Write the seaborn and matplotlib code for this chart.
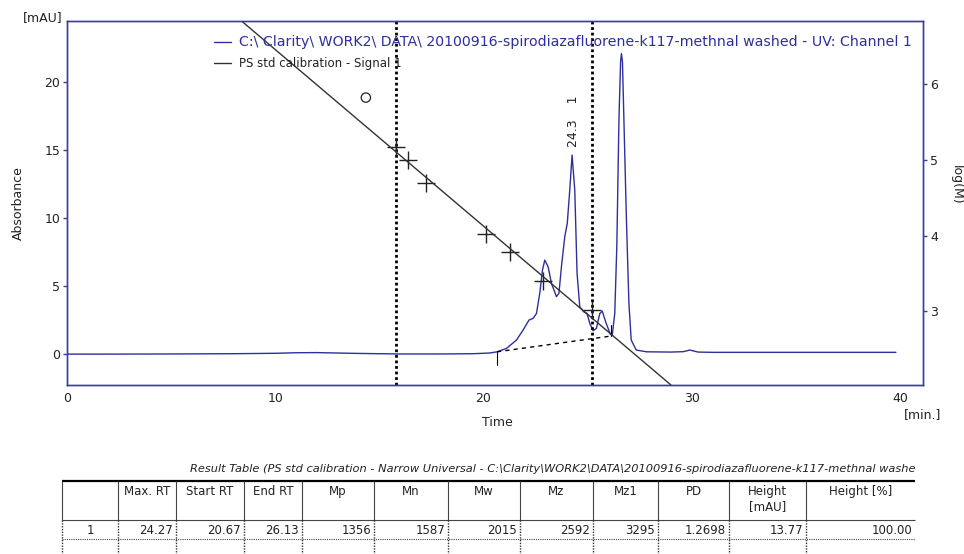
import matplotlib
matplotlib.use('Agg')
import matplotlib.pyplot as plt
from matplotlib.lines import Line2D
import seaborn as sns
import pandas as pd

# chromatogram (UV channel 1)
time_min = [0, 2, 5, 8, 10, 11, 12, 13, 14, 16, 18, 19.5, 20.3, 20.65, 21.1, 21.58,
            21.9, 22.18, 22.38, 22.54, 22.7, 22.83, 22.94, 23.1, 23.26, 23.5, 23.62,
            23.74, 23.9, 24.02, 24.14, 24.25, 24.38, 24.49, 24.62, 24.81, 24.97, 25.1,
            25.26, 25.42, 25.58, 25.7, 25.86, 26.09, 26.18, 26.3, 26.4, 26.5, 26.58,
            26.62, 26.67, 26.74, 26.86, 26.98, 27.09, 27.33, 27.82, 29.0, 29.6, 29.9,
            30.3, 31.0, 35.0, 39.8]
absorbance = [0.02, 0.02, 0.03, 0.05, 0.08, 0.12, 0.13, 0.1, 0.07, 0.03, 0.03, 0.05,
              0.1, 0.19, 0.44, 1.05, 1.79, 2.52, 2.65, 3.0, 4.5, 6.2, 6.93, 6.44, 5.22,
              4.24, 4.49, 6.44, 8.65, 9.63, 12.08, 14.65, 12.08, 5.96, 3.5, 3.13, 3.0,
              2.28, 1.74, 1.91, 3.0, 3.18, 2.4, 1.47, 1.42, 3.0, 8.0, 17.2, 21.5, 22.1,
              21.5, 17.2, 9.9, 3.75, 1.05, 0.32, 0.19, 0.17, 0.2, 0.32, 0.17, 0.15,
              0.15, 0.15]

# PS calibration
cal_line_time = [8.38, 29.0]
cal_line_logm = [6.83, 2.03]
std_time = [15.82, 16.38, 17.26, 20.1, 21.26, 22.86, 25.22]
std_logm = [5.17, 5.0, 4.70, 4.02, 3.78, 3.40, 3.02]
excluded_time = [14.35]
excluded_logm = [5.82]
limit_times = [15.79, 25.2]

# integration of peak 1
peak_rt = 24.3
peak_height = 14.65
base_start = (20.65, 0.19)
base_end = (26.13, 1.35)

# result table
col_names = ['', 'Max. RT', 'Start RT', 'End RT', 'Mp', 'Mn', 'Mw', 'Mz', 'Mz1',
             'PD', 'Height\n[mAU]', 'Height [%]']
row_values = ['1', '24.27', '20.67', '26.13', '1356', '1587', '2015', '2592', '3295',
              '1.2698', '13.77', '100.00']
col_edges = [62, 118, 176, 244, 302, 374, 448, 520, 593, 658, 729, 806, 915]

sns.set_style('white')
plt.rcParams['font.family'] = ['DejaVu Sans']

NAVY = '#2f2f9c'
SPINE = '#3c3ca0'
TXT = '#222222'

fig = plt.figure(figsize=(9.64, 5.54), dpi=100)
W, H = 964, 554
ax = fig.add_axes([67 / W, 1 - 385 / H, (923 - 67) / W, (385 - 21) / H])
ax2 = ax.twinx()

trace = pd.DataFrame({'time': time_min, 'abs': absorbance})
sns.lineplot(data=trace, x='time', y='abs', ax=ax, color=NAVY, lw=1.0,
             estimator=None, sort=False)
ax.set_xlim(0, 41.1)
ax.set_ylim(-2.25, 24.5)
ax.set_xticks([0, 10, 20, 30, 40])
ax.set_yticks([0, 5, 10, 15, 20])
ax.set_xlabel('')
ax.set_ylabel('')

# baseline and integration marks
ax.plot([base_start[0], base_end[0]], [base_start[1], base_end[1]],
        color='black', lw=1, ls=(0, (3, 3)))
ax.plot([base_start[0], base_start[0]], [base_start[1], -0.75], color='black', lw=0.8)
ax.plot([base_end[0], base_end[0]], [base_end[1], 2.15], color='black', lw=0.8)
for t in limit_times:
    ax.axvline(t, color='black', lw=2, ls=(0, (1, 1)))
ax.text(peak_rt, peak_height + 0.6, '24.3    1', rotation=90, ha='center',
        va='bottom', fontsize=9, color=TXT)

# calibration on right axis
sns.lineplot(x=cal_line_time, y=cal_line_logm, ax=ax2, color='#333333', lw=1.0)
sns.scatterplot(x=std_time, y=std_logm, ax=ax2, marker='+', s=170, color='#222222',
                linewidth=1.0)
ax2.scatter(excluded_time, excluded_logm, s=45, facecolors='none', edgecolors='#222222',
            linewidths=0.9)
ax2.set_ylim(2.03, 6.83)
ax2.set_yticks([3, 4, 5, 6])
ax2.set_ylabel('')

for a in (ax, ax2):
    for sp in a.spines.values():
        sp.set_color(SPINE)
        sp.set_linewidth(1.0)
    a.tick_params(direction='out', length=3, width=1, color=SPINE, labelsize=9,
                  labelcolor=TXT, pad=2)

# legend
handles = [Line2D([], [], color=NAVY, lw=1.0), Line2D([], [], color='#333333', lw=1.0)]
labels = ['C:\\ Clarity\\ WORK2\\ DATA\\ 20100916-spirodiazafluorene-k117-methnal washed - UV: Channel 1',
          'PS std calibration - Signal 1']
leg = ax2.legend(handles, labels, loc='upper left', bbox_to_anchor=(0.157, 0.995),
                 frameon=False, fontsize=9, handlelength=1.4, handletextpad=0.6,
                 labelspacing=0.62, borderaxespad=0.6)
leg.get_texts()[0].set_color(NAVY)
leg.get_texts()[0].set_fontsize(10.2)
leg.get_texts()[1].set_color(TXT)
leg.get_texts()[1].set_fontsize(8.5)

# axis titles
fig.text(43 / W, 1 - 18 / H, '[mAU]', ha='center', va='center', fontsize=9, color=TXT)
fig.text(18 / W, 1 - 203 / H, 'Absorbance', rotation=90, ha='center', va='center',
         fontsize=9, color=TXT)
fig.text(497 / W, 1 - 423 / H, 'Time', ha='center', va='center', fontsize=9, color=TXT)
fig.text(923 / W, 1 - 415 / H, '[min.]', ha='center', va='center', fontsize=9, color=TXT)
fig.text(956 / W, 1 - 185 / H, 'log(M)', rotation=270, ha='center', va='center',
         fontsize=9, color=TXT)

# result table drawn in pixel coordinates
tab = fig.add_axes([0, 0, 1, 1])
tab.set_xlim(0, W)
tab.set_ylim(H, 0)
tab.axis('off')
narrow = ['Liberation Sans Narrow', 'DejaVu Sans']
tab.text(915, 469, 'Result Table (PS std calibration - Narrow Universal - '
         'C:\\Clarity\\WORK2\\DATA\\20100916-spirodiazafluorene-k117-methnal washe',
         ha='right', va='center', fontsize=8.2, style='italic', family=narrow, color=TXT)
tab.hlines(481, col_edges[0], col_edges[-1], color='black', lw=1.6)
tab.hlines(520, col_edges[0], col_edges[-1], color='#444444', lw=0.8)
tab.hlines(539, col_edges[0], col_edges[-1], color='#444444', lw=0.8, ls=(0, (1, 1)))
for xe in col_edges[:-1]:
    tab.vlines(xe, 481, 520, color='#444444', lw=0.8)
    tab.vlines(xe, 520, 554, color='#333333', lw=1.0, ls=(0, (1, 1)))
for i, name in enumerate(col_names):
    xc = (col_edges[i] + col_edges[i + 1]) / 2
    tab.text(xc, 485, name, ha='center', va='top', fontsize=8.5, family=narrow,
             color=TXT, linespacing=1.2)
for i, val in enumerate(row_values):
    if i == 0:
        tab.text((col_edges[0] + col_edges[1]) / 2, 530, val, ha='center', va='center',
                 fontsize=8.5, family=narrow, color=TXT)
    else:
        tab.text(col_edges[i + 1] - 3, 530, val, ha='right', va='center',
                 fontsize=8.5, family=narrow, color=TXT)

fig.savefig('out.png', dpi=100)
